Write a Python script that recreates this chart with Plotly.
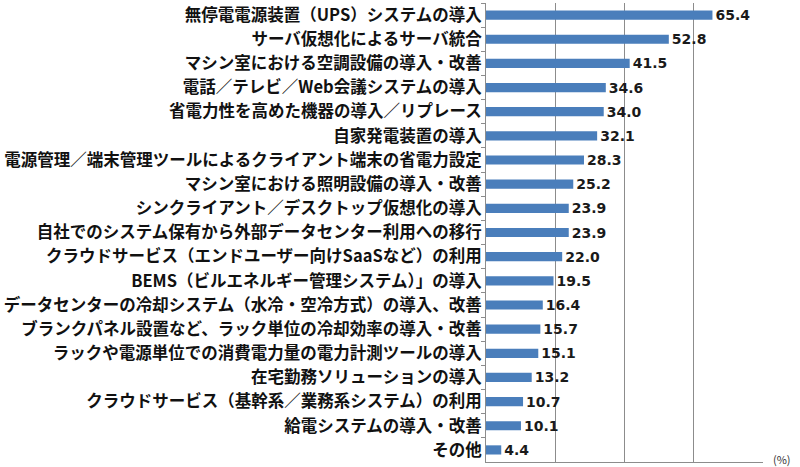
import plotly.graph_objects as go

categories = [
    "無停電電源装置（UPS）システムの導入",
    "サーバ仮想化によるサーバ統合",
    "マシン室における空調設備の導入・改善",
    "電話／テレビ／Web会議システムの導入",
    "省電力性を高めた機器の導入／リプレース",
    "自家発電装置の導入",
    "電源管理／端末管理ツールによるクライアント端末の省電力設定",
    "マシン室における照明設備の導入・改善",
    "シンクライアント／デスクトップ仮想化の導入",
    "自社でのシステム保有から外部データセンター利用への移行",
    "クラウドサービス（エンドユーザー向けSaaSなど）の利用",
    "BEMS（ビルエネルギー管理システム）」の導入",
    "データセンターの冷却システム（水冷・空冷方式）の導入、改善",
    "ブランクパネル設置など、ラック単位の冷却効率の導入・改善",
    "ラックや電源単位での消費電力量の電力計測ツールの導入",
    "在宅勤務ソリューションの導入",
    "クラウドサービス（基幹系／業務系システム）の利用",
    "給電システムの導入・改善",
    "その他",
]
values = [65.4, 52.8, 41.5, 34.6, 34.0, 32.1, 28.3, 25.2, 23.9, 23.9,
          22.0, 19.5, 16.4, 15.7, 15.1, 13.2, 10.7, 10.1, 4.4]

fig = go.Figure(
    go.Bar(
        x=values,
        y=categories,
        orientation="h",
        marker=dict(color="#4a7ebb", line=dict(width=0)),
        text=[f"{v:.1f}" for v in values],
        textposition="outside",
        constraintext="none",
        cliponaxis=False,
        textfont=dict(family="DejaVu Sans", size=14, color="#1a1a1a", weight="bold"),
    )
)

fig.update_layout(
    width=800,
    height=467,
    margin=dict(l=486, r=37, t=3, b=5),
    plot_bgcolor="white",
    paper_bgcolor="white",
    bargap=0.62,
    showlegend=False,
    font=dict(family="Noto Sans CJK JP", color="#111111"),
)

fig.update_xaxes(
    range=[0, 80],
    dtick=20,
    showgrid=True,
    gridcolor="#8c8c8c",
    gridwidth=1,
    showticklabels=False,
    zeroline=False,
    showline=True,
    linecolor="#8c8c8c",
    automargin=False,
)
fig.update_yaxes(
    autorange="reversed",
    tickson="boundaries",
    ticks="outside",
    ticklen=4,
    tickcolor="#8c8c8c",
    showline=True,
    linecolor="#8c8c8c",
    automargin=False,
    tickfont=dict(family="Noto Sans CJK JP", size=16.5, color="#111111", weight="bold"),
)

# "(%)" unit note at the lower right, next to the axis end
fig.add_annotation(
    text="(%)", x=1.0, y=0, xref="paper", yref="paper",
    xanchor="left", yanchor="middle", xshift=8, yshift=3, showarrow=False,
    font=dict(family="Noto Sans CJK JP", size=11, color="#333333"),
)

# drop the browser's default page margin so the figure sits at the top-left
fig.write_html(
    "out.html",
    config={"displayModeBar": False},
    post_script="document.body.style.margin='0';",
)
